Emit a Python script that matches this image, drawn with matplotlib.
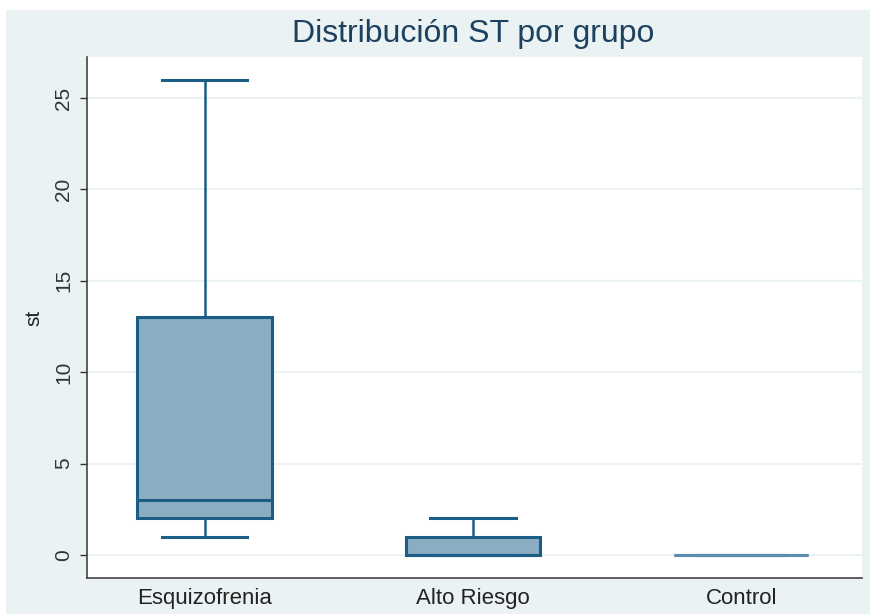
import matplotlib.pyplot as plt
from matplotlib.patches import Rectangle

# Summary statistics of ST per group
groups = ["Esquizofrenia", "Alto Riesgo", "Control"]
whisker_low = [1, 0, 0]
q1 = [2, 0, 0]
median = [3, 0, 0]
q3 = [13, 1, 0]
whisker_high = [26, 2, 0]
yticks = [0, 5, 10, 15, 20, 25]

bg = "#EAF2F3"
edge = "#1A5E85"
fill = "#8AADC1"
title_col = "#1E4160"

plt.rcParams['font.family'] = ['Liberation Sans Narrow', 'Liberation Sans', 'DejaVu Sans']

fig = plt.figure(figsize=(8.73, 6.16), dpi=100, facecolor="white")
fig.patches.append(Rectangle((6 / 873, 2 / 616), 864 / 873, 604 / 616,
                             transform=fig.transFigure, facecolor=bg,
                             edgecolor="none", zorder=-1))

ax = fig.add_axes([87 / 873, 38 / 616, 775 / 873, 521 / 616])
ax.set_facecolor("white")

stats = []
for i, g in enumerate(groups):
    stats.append(dict(label=g, whislo=whisker_low[i], q1=q1[i], med=median[i],
                      q3=q3[i], whishi=whisker_high[i], fliers=[]))

positions = [1, 2, 3]
bp = ax.bxp(stats, positions=positions, widths=0.5, patch_artist=True,
            showfliers=False,
            boxprops=dict(facecolor=fill, edgecolor=edge, linewidth=2.2),
            medianprops=dict(color=edge, linewidth=2.2),
            whiskerprops=dict(color=edge, linewidth=1.8),
            capprops=dict(color=edge, linewidth=2.2),
            capwidths=0.32)
# all-zero group draws as a single flat line
bp['boxes'][2].set_edgecolor("#5A8DB0")
bp['medians'][2].set_color("#5A8DB0")

ax.set_xlim(0.562, 3.45)
ax.set_ylim(-1.26, 27.24)
ax.set_yticks(yticks)
ax.set_yticklabels([str(t) for t in yticks], rotation=90, va="center",
                   fontsize=15, color="#333333")
ax.set_xticks(positions)
ax.set_xticklabels(groups, fontsize=16, color="#222222")
ax.tick_params(axis="x", length=0, pad=7)
ax.tick_params(axis="y", length=5, width=1, color="#333333", pad=5)
ax.yaxis.grid(True, color=bg, linewidth=1.5)
ax.set_axisbelow(True)

for s in ["top", "right"]:
    ax.spines[s].set_visible(False)
for s in ["left", "bottom"]:
    ax.spines[s].set_color("#444444")
    ax.spines[s].set_linewidth(1.2)

ax.set_ylabel("st", fontsize=15, color="#222222", labelpad=8)
fig.text(473 / 873, 1 - 34 / 616, "Distribución ST por grupo", ha="center",
         va="center", fontsize=23, color=title_col)

fig.savefig("out.png", dpi=100, facecolor=fig.get_facecolor())
